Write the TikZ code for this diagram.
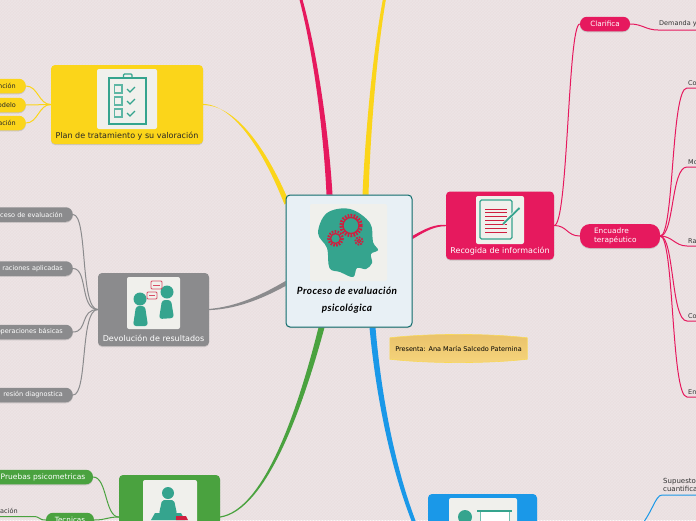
\documentclass[tikz,border=0pt]{standalone}
\usepackage{fontspec}
\setmainfont{DejaVu Sans}
\newfontfamily\handfont[LetterSpace=4]{Lato}
\usetikzlibrary{positioning,calc,backgrounds,shadows,patterns}
\definecolor{pageFill}{HTML}{EADFE0}
\definecolor{pageHatch}{HTML}{EDE4E5}
\definecolor{rootFill}{HTML}{E8F0F5}
\definecolor{rootStroke}{HTML}{0F6B6B}
\definecolor{iconBack}{HTML}{F0F0EC}
\definecolor{iconTeal}{HTML}{35A48E}
\definecolor{iconRed}{HTML}{CF1F3F}
\definecolor{pinkCol}{HTML}{E6195E}
\definecolor{yellowCol}{HTML}{FBD51A}
\definecolor{grayCol}{HTML}{8B8B8D}
\definecolor{greenCol}{HTML}{4AA23F}
\definecolor{blueCol}{HTML}{1A98E8}
\definecolor{noteTop}{HTML}{E9C26A}
\definecolor{noteBottom}{HTML}{F6D47C}
\definecolor{noteStroke}{HTML}{F8D858}
\newcommand{\taper}[7]{%
  \fill[#1] ($(#2)+(#6)$) .. controls ($(#3)+.7*(#6)+.3*(#7)$) and ($(#4)+.3*(#6)+.7*(#7)$) .. ($(#5)+(#7)$)
    -- ($(#5)-(#7)$) .. controls ($(#4)-.3*(#6)-.7*(#7)$) and ($(#3)-.7*(#6)-.3*(#7)$) .. ($(#2)-(#6)$) -- cycle;}

\begin{document}
\begin{tikzpicture}[
  x=1pt, y=-1pt,
  font=\fontsize{7}{9}\selectfont,
  box/.style={rounded corners=4pt, drop shadow={opacity=.3, shadow xshift=0pt, shadow yshift=-1pt}, inner sep=0pt},
  pill/.style={rounded corners=7pt, minimum height=14.5pt, inner sep=0pt, text=white, font=\fontsize{7.2}{9}\selectfont, drop shadow={opacity=.3, shadow xshift=0pt, shadow yshift=-1pt}},
  cutpill/.style={pill, anchor=east, minimum width=90pt, align=right, text width=70pt, font=\fontsize{6.5}{9}\selectfont},
  boxlbl/.style={inner sep=0pt, font=\fontsize{8}{9}\selectfont},
  iconbg/.style={fill=iconBack, rounded corners=2pt, inner sep=0pt},
  leaf/.style={anchor=south west, inner xsep=1pt, inner ysep=2.5pt, align=left, text=black!80, font=\fontsize{6.5}{8.5}\selectfont},
  link/.style={line width=1pt},
  pinklink/.style={link, draw=pinkCol},
  yellowlink/.style={link, draw=yellowCol},
  graylink/.style={link, draw=grayCol},
  greenlink/.style={link, draw=greenCol},
  bluelink/.style={link, draw=blueCol}
]
\useasboundingbox (0,0) rectangle (696,520);
\begin{pgfonlayer}{background}
  \fill[pageFill] (0,0) rectangle (696,520);
  \fill[pattern=crosshatch, pattern color=pageHatch] (0,0) rectangle (696,520);
\end{pgfonlayer}

% ============================================================
% ROOT
% ============================================================
\node[box, draw=rootStroke, fill=rootFill, line width=1pt, minimum width=126pt, minimum height=132pt] (root) at (349,261) {};
\node[iconbg, minimum width=77pt, minimum height=77pt] (rooticon) at (348.5,242.5) {};
\node[align=center, inner sep=0pt, font=\handfont\bfseries\itshape\fontsize{10}{17}\selectfont] (rootlbl) at (347,300.5) {Proceso de evaluación\\psicológica};
\fill[iconTeal] plot[smooth cycle, tension=.6] coordinates {(329.5,268) (327,248) (318,233) (327,213) (350,209) (370,223) (373,242) (378,250) (371,254) (372,263) (366,269) (357,268) (353,277) (340,272)};
\foreach \gx/\gy/\gr/\gw in {351/225.5/9/3.5, 335.5/238.5/6/2.6, 359/241/2.8/1.6} {
  \draw[iconRed, line width=\gw pt, dash pattern=on 1.6pt off 1.3pt] (\gx,\gy) circle[radius=\gr+1];
  \draw[iconRed, line width=1.3pt] (\gx,\gy) circle[radius=\gr-1];
}

% ============================================================
% MAIN TOPICS
% ============================================================
\node[box, fill=yellowCol, minimum width=152pt, minimum height=79pt] (plan) at (127,104.5) {};
\node[iconbg, minimum width=60pt, minimum height=60pt] (planicon) at (127,99) {};
\node[boxlbl, text=black!85, above=4pt of plan.south] (planlbl) {Plan de tratamiento y su valoración};

\node[box, fill=grayCol, minimum width=111pt, minimum height=73pt] (devol) at (153.5,309.5) {};
\node[iconbg, minimum width=53pt, minimum height=52pt] (devolicon) at (153.5,303) {};
\node[boxlbl, text=white, above=4.5pt of devol.south] (devollbl) {Devolución de resultados};

\node[box, fill=pinkCol, minimum width=108pt, minimum height=68pt] (recog) at (500,225.5) {};
\node[iconbg, minimum width=48pt, minimum height=48pt] (recogicon) at (500,220) {};
\node[boxlbl, text=white, above=4.5pt of recog.south] (recoglbl) {Recogida de información};

\node[box, fill=greenCol, minimum width=101pt, minimum height=84pt] (pruebas) at (169.5,517) {};
\node[iconbg, minimum width=54pt, minimum height=60pt] (pruebasicon) at (170,510) {};

\node[box, fill=blueCol, minimum width=109pt, minimum height=92pt] (modelo) at (482.5,540) {};
\node[iconbg, minimum width=68pt, minimum height=60pt] (modeloicon) at (483,528) {};

% ============================================================
% ICONS
% ============================================================
\draw[iconTeal, line width=1.5pt] (109,78) rectangle (146,124);
\draw[iconTeal, line width=1.3pt, rounded corners=1pt] (123.5,78) -- (123.5,74) -- (132,74) -- (132,78);
\foreach \cy in {85,97,109} {
  \draw[iconTeal!80, line width=1.2pt] (114.5,\cy) rectangle (122,\cy+8);
  \draw[iconTeal, line width=1.2pt] (127,\cy+4) -- (130,\cy+7) -- (135,\cy+2);
}

\fill[iconTeal] (140,299) circle[radius=6.5];
\fill[iconTeal, rounded corners=3pt] (136,306) -- (145,306) -- (148,326) -- (133,326) -- cycle;
\fill[iconTeal] (167,292) circle[radius=6.5];
\fill[iconTeal, rounded corners=3pt] (162,300) -- (171,300) -- (174,318) -- (159,319) -- cycle;
\draw[iconRed!80, fill=iconBack, line width=.8pt, rounded corners=1pt] (151,281) rectangle (162,289);
\draw[iconRed!80, fill=iconBack, line width=.8pt, rounded corners=1pt] (147,292) rectangle (157,299);
\draw[iconRed!80, line width=.7pt] (153,285) -- (160,285) (149,295.5) -- (155,295.5);

\draw[iconTeal, line width=1.2pt, rounded corners=1.5pt] (480,200) rectangle (512,239);
\foreach \ly in {209.3,212.7,216,220.7,224.7,228.7,232.3} {
  \draw[iconRed, line width=.8pt] (485,\ly) -- (507,\ly);
}
\draw[iconBack, line width=3pt] (503,224) -- (519.5,208);
\draw[iconTeal, line width=1.8pt] (503,224) -- (519.5,208);

\fill[iconTeal] (168,493) circle[radius=6];
\fill[iconTeal, rounded corners=2pt] (162,500) -- (174,500) -- (177,514) -- (159,514) -- cycle;
\fill[iconTeal] (155,513) -- (181,513) -- (185,520) -- (151,520) -- cycle;
\fill[iconRed] (176,516) -- (186,516) -- (188,520) -- (176,520) -- cycle;

\fill[iconTeal] (465,517) circle[radius=7];
\draw[iconTeal!70, fill=white, line width=1pt] (480,511) rectangle (509,530);
\draw[iconTeal, line width=1.4pt] (477,511) -- (512,511);

% ============================================================
% YELLOW / GRAY CHILDREN (cut at page edge)
% ============================================================
\node[cutpill, fill=yellowCol, text=black!85] (p1) at (26,86) {nción};
\node[cutpill, fill=yellowCol, text=black!85] (p2) at (26,105) {odelo};
\node[cutpill, fill=yellowCol, text=black!85] (p3) at (26,123) {ación};

\node[cutpill, fill=grayCol] (d1) at (73,214.5) {ceso de evaluación};
\node[cutpill, fill=grayCol] (d2) at (73,268.5) {raciones aplicadas};
\node[cutpill, fill=grayCol] (d3) at (73,332) {operaciones básicas};
\node[cutpill, fill=grayCol] (d4) at (73,395) {resión diagnostica};

% ============================================================
% GREEN CHILDREN
% ============================================================
\node[pill, fill=greenCol, minimum width=100pt, font=\fontsize{7.5}{9}\selectfont] (psico) at (43,477) {Pruebas psicometricas};
\node[pill, fill=greenCol, minimum width=48pt] (tecn) at (70,520) {Tecnicas};
\node[leaf, anchor=south west] (tecnleaf) at (-1,516.5) {ación};

% ============================================================
% PINK CHILDREN
% ============================================================
\node[pill, fill=pinkCol, minimum width=50pt] (clar) at (605,24) {Clarifica};
\node[pill, fill=pinkCol, minimum width=80pt, minimum height=24pt, rounded corners=10pt, align=left, text width=52pt, font=\fontsize{7.4}{9}\selectfont] (encu) at (620,236) {Encuadre\\terapéutico};
\node[leaf] (demanda) at (658,30) {Demanda y};
\node[leaf] (en1) at (687,88) {Co};
\node[leaf] (en2) at (687,167) {Mo};
\node[leaf] (en3) at (687,246) {Ra};
\node[leaf] (en4) at (687,321) {Co};
\node[leaf] (en5) at (687,397) {En};

\node[leaf, font=\fontsize{7}{8.5}\selectfont, inner ysep=3pt] (supuesto) at (662,495) {Supuesto\\cuantifica};

% ============================================================
% NOTE
% ============================================================
\node[inner sep=0pt, minimum width=137pt, minimum height=21pt, text=black, font=\fontsize{6.5}{8}\selectfont] (nota) at (458.5,348.5) {};
\begin{pgfonlayer}{background}
  \draw[noteStroke, top color=noteTop, bottom color=noteBottom, line width=.6pt] (nota.north west) .. controls +(40,-4.5) and +(-40,-4.5) .. (nota.north east) -- (nota.south east) .. controls +(-40,4.5) and +(40,4.5) .. (nota.south west) -- cycle;
\end{pgfonlayer}
\node[inner sep=0pt, text=black, font=\fontsize{6.5}{8}\selectfont] (notalbl) at (nota.center) {Presenta: Ana María Salcedo Paternina};

% ============================================================
% BRANCHES
% ============================================================
\coordinate (redA) at ($(root.north west)+(44,0)$);
\coordinate (redB) at (300,-4);
\coordinate (sunA) at ($(root.north west)+(80,0)$);
\coordinate (sunB) at (385,-4);
\coordinate (planA) at ($(root.north west)+(1,8)$);
\coordinate (grayA) at ($(root.south west)+(0,-44)$);
\coordinate (pinkA) at ($(root.north east)+(0,43)$);
\coordinate (greenA) at ($(root.south west)+(36,0)$);
\coordinate (blueA) at ($(root.south west)+(87,0)$);
\coordinate (blueB) at (418,532);
\begin{pgfonlayer}{background}
  \taper{pinkCol}{redA}{326,130}{315,50}{redB}{3,0}{1.5,0}
  \taper{yellowCol}{sunA}{368,130}{375,50}{sunB}{3,0}{1.5,0}
  \taper{yellowCol}{planA}{265,150}{235,105}{plan.east}{2,-2}{0,.6}
  \taper{grayCol}{grayA}{260,298}{235,308}{devol.east}{0,2.5}{0,.6}
  \taper{pinkCol}{pinkA}{425,230}{435,225}{recog.west}{0,1.6}{0,.7}
  \taper{greenCol}{greenA}{300,410}{265,510}{pruebas.east}{3,0}{0,.6}
  \taper{blueCol}{blueA}{378,390}{392,470}{blueB}{3,0}{2,0}

  \draw[pinklink] (recog.east) .. controls +(13,0) and +(-13,0) .. (encu.west);
  \draw[pinklink] (recog.east) .. controls +(14,0) and +(-12,0) .. (clar.west);
  \draw[pinklink] (clar.east) .. controls +(12,0) and +(-12,0) .. (demanda.south west) -- ++(50,0);
  \foreach \leafname in {en1,en2,en4,en5} {
    \draw[pinklink] (encu.east) .. controls +(14,0) and +(-16,0) .. (\leafname.south west) -- ++(20,0);
  }
  \draw[pinklink] (encu.east) .. controls +(12,0) and +(-12,0) .. (en3.south west) -- ++(20,0);
  \draw[bluelink] (modelo.east) .. controls (650,575) and (648,495) .. (supuesto.south west) -- ++(50,0);

  \foreach \pillname in {p1,p2,p3} {
    \draw[yellowlink] (plan.west) .. controls +(-12,0) and +(12,0) .. (\pillname.east);
  }
  \foreach \pillname in {d1,d2,d3,d4} {
    \draw[graylink] (devol.west) .. controls +(-18,0) and +(15,0) .. (\pillname.east);
  }
  \draw[greenlink] (pruebas.west) .. controls +(-14,0) and +(14,0) .. (psico.east);
  \draw[greenlink] (pruebas.west) .. controls +(-12,0) and +(12,0) .. (tecn.east);
  \draw[greenlink] (tecn.west) .. controls +(-8,0) and +(8,0) .. ($(tecnleaf.south west)+(34,0)$) -- (tecnleaf.south west);
\end{pgfonlayer}

\end{tikzpicture}
\end{document}
